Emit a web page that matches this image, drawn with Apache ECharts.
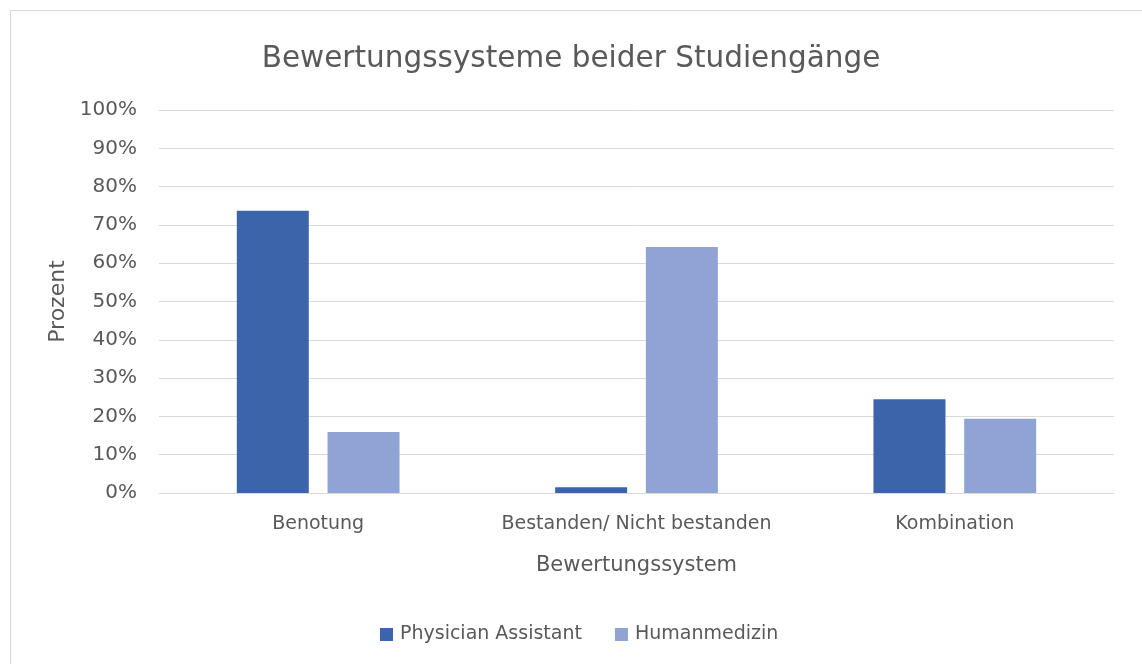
<!DOCTYPE html>
<html><head><meta charset="utf-8">
<script src="https://cdn.jsdelivr.net/npm/echarts@6/dist/echarts.min.js"></script>
<style>
html,body{margin:0;padding:0;background:#fff;}
#frame{position:absolute;left:10px;top:10px;width:1140px;height:670px;border:1px solid #d9d9d9;box-sizing:border-box;}
#c{position:absolute;left:0;top:0;width:1142px;height:664px;}
</style></head>
<body>
<div id="frame"></div>
<div id="c"></div>
<script>
const categories = ['Benotung', 'Bestanden/ Nicht bestanden', 'Kombination'];
const physicianAssistant = [73.7, 1.5, 24.5];
const humanmedizin = [15.9, 64.2, 19.4];
const seriesNames = ['Physician Assistant', 'Humanmedizin'];

const FONT = 'DejaVu Sans';
const TXT = '#595959';
const chart = echarts.init(document.getElementById('c'), null, {renderer: 'canvas'});
chart.setOption({
  animation: false,
  textStyle: {fontFamily: FONT},
  title: {
    text: 'Bewertungssysteme beider Studiengänge',
    left: 'center', top: 39,
    textStyle: {fontFamily: FONT, fontSize: 29.5, fontWeight: 'normal', color: TXT}
  },
  grid: {left: 159, right: 28, top: 110, bottom: 171, containLabel: false},
  legend: {
    bottom: 15, left: 375,
    itemWidth: 13, itemHeight: 13, itemGap: 33,
    icon: 'rect',
    textStyle: {fontFamily: FONT, fontSize: 19, color: TXT, padding: [0, 0, 0, 2]},
    data: seriesNames
  },
  xAxis: {
    type: 'category', data: categories,
    name: 'Bewertungssystem', nameLocation: 'middle', nameGap: 62,
    nameTextStyle: {fontFamily: FONT, fontSize: 21, color: TXT},
    axisLine: {lineStyle: {color: '#d9d9d9', width: 1}},
    axisTick: {show: false},
    axisLabel: {interval: 0, fontFamily: FONT, fontSize: 19, color: TXT, margin: 22}
  },
  yAxis: {
    type: 'value', min: 0, max: 100, interval: 10,
    name: 'Prozent', nameLocation: 'middle', nameGap: 88, nameRotate: 90,
    nameTextStyle: {fontFamily: FONT, fontSize: 22, color: TXT},
    axisLabel: {formatter: '{value}%', fontFamily: FONT, fontSize: 20, color: TXT, margin: 22},
    splitLine: {lineStyle: {color: '#d9d9d9', width: 1}},
    axisLine: {show: false}, axisTick: {show: false}
  },
  series: [
    {name: seriesNames[0], type: 'bar', data: physicianAssistant, barWidth: 72, barGap: '26%',
     itemStyle: {color: '#3C64AB'}},
    {name: seriesNames[1], type: 'bar', data: humanmedizin, barWidth: 72,
     itemStyle: {color: '#8FA4D4'}}
  ]
});
</script>
</body></html>
